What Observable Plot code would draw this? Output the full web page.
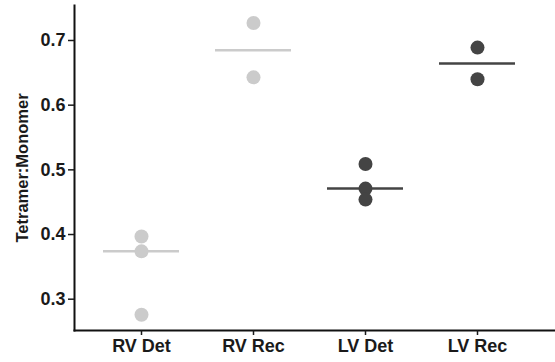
<!DOCTYPE html>
<html>
<head>
<meta charset="utf-8">
<script src="https://cdn.jsdelivr.net/npm/d3@7"></script>
<script src="https://cdn.jsdelivr.net/npm/@observablehq/plot@0.6"></script>
<style>
  html, body { margin: 0; padding: 0; background: #fff; }
  svg { font-family: "Liberation Sans", Arial, sans-serif; font-weight: bold; }
</style>
</head>
<body>
<div id="chart"></div>
<script>
// categories and values
const groupOrder = ["RV Det", "RV Rec", "LV Det", "LV Rec"];
const groups = ["RV Det", "RV Det", "RV Det", "RV Rec", "RV Rec", "LV Det", "LV Det", "LV Det", "LV Rec", "LV Rec"];
const values = [0.397, 0.374, 0.276, 0.727, 0.643, 0.509, 0.471, 0.454, 0.689, 0.640];
const sides = ["RV", "RV", "RV", "RV", "RV", "LV", "LV", "LV", "LV", "LV"];
const yTicks = [0.3, 0.4, 0.5, 0.6, 0.7];
const yLabel = "Tetramer:Monomer";

const data = groups.map((g, i) => ({group: g, value: values[i], side: sides[i]}));

const colorScale = {domain: ["RV", "LV"], range: ["#cbcbcb", "#444444"]};

const chart = Plot.plot({
  width: 555,
  height: 362,
  marginLeft: 74,
  marginRight: 0,
  marginTop: 5,
  marginBottom: 32,
  style: {background: "#fff", color: "#1a1a1a"},
  x: {type: "band", domain: groupOrder, range: [74, 544], paddingInner: 0.32, paddingOuter: 0.25},
  y: {domain: [0.2516, 0.7541]},
  color: colorScale,
  marks: [
    Plot.frame({anchor: "left", strokeWidth: 2, stroke: "#111"}),
    Plot.frame({anchor: "bottom", strokeWidth: 2, stroke: "#111"}),
    Plot.axisY({ticks: yTicks, tickFormat: d3.format(".1f"), label: null, fontSize: 18, fontWeight: "bold", tickSize: 6, tickPadding: 3, strokeWidth: 1.5}),
    Plot.text([yLabel], {frameAnchor: "left", textAnchor: "middle", dx: -51.5, rotate: -90, text: d => d, fontSize: 16.5, fontWeight: "bold", fill: "#1a1a1a"}),
    Plot.axisX({label: null, fontSize: 18, fontWeight: "bold", tickSize: 5, tickPadding: 4, strokeWidth: 1.5}),
    Plot.tickY(data, Plot.groupX({y: "median"}, {x: "group", y: "value", stroke: "side", strokeWidth: 2.5})),
    Plot.dot(data, {x: "group", y: "value", fill: "side", r: 7})
  ]
});
document.getElementById("chart").appendChild(chart);
</script>
</body>
</html>
